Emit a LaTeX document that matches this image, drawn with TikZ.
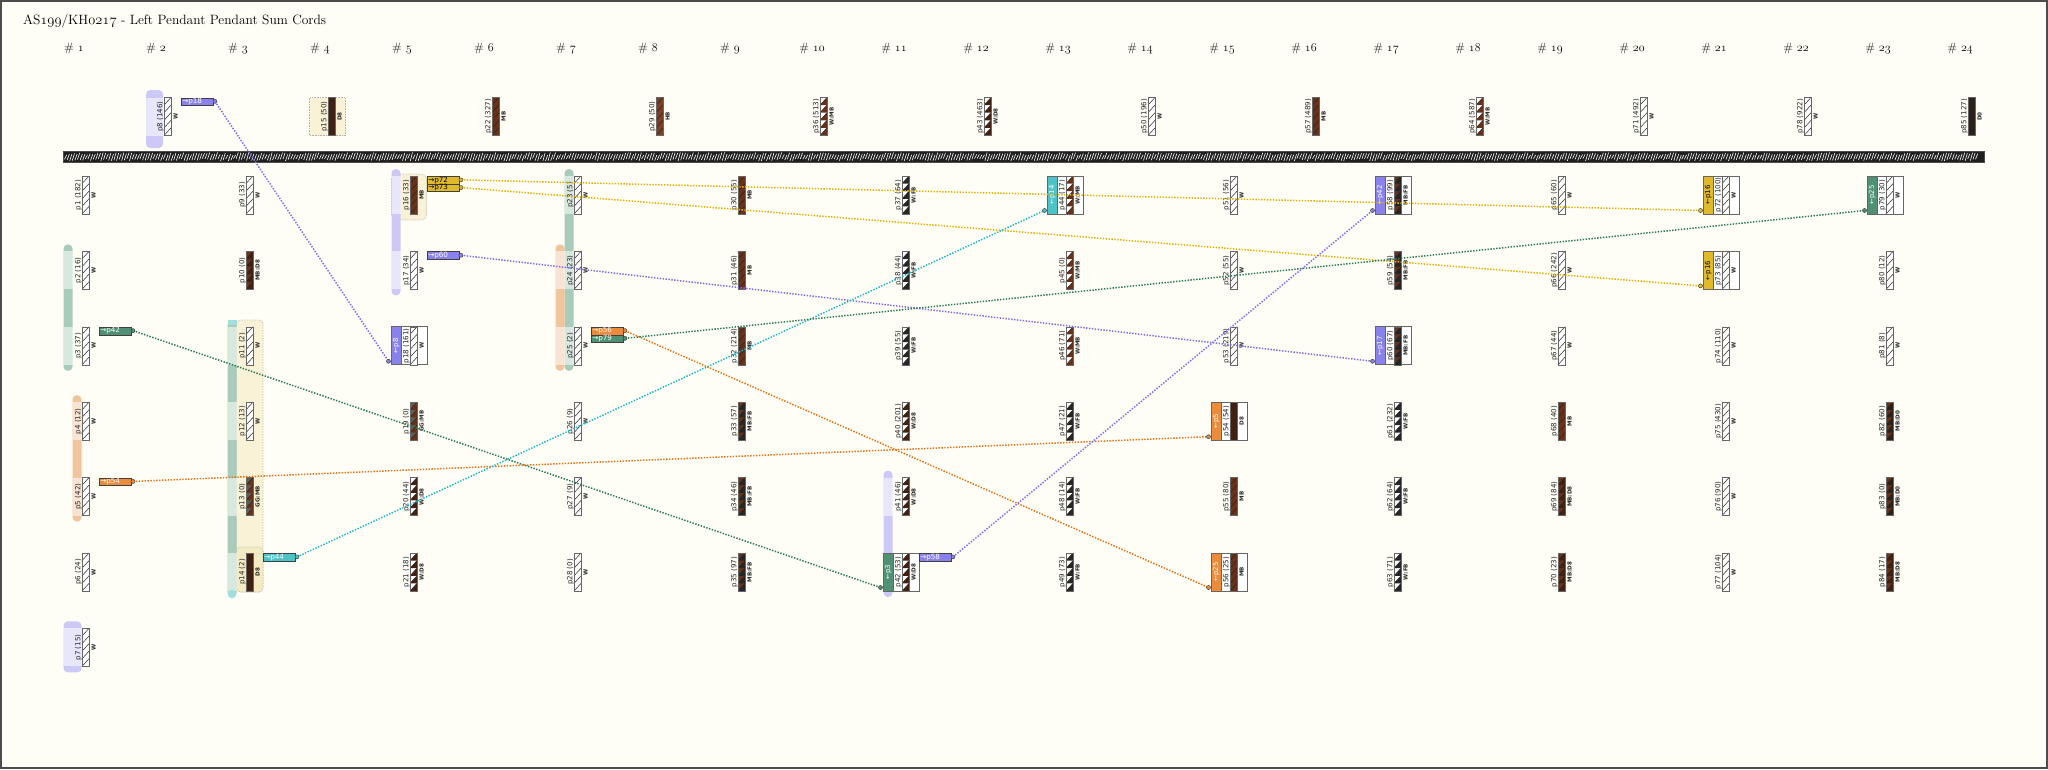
\documentclass[tikz,border=0pt]{standalone}
\usepackage{fontspec}
\newfontfamily\dv{DejaVu Sans}
\definecolor{bg}{HTML}{FFFEF6}
\definecolor{cW}{HTML}{FFFFFF}
\definecolor{cMB}{HTML}{6B3118}
\definecolor{cD8}{HTML}{43200F}
\definecolor{cHB}{HTML}{7C4024}
\definecolor{cD0}{HTML}{2B2118}
\definecolor{cFB}{HTML}{262626}
\definecolor{cGG}{HTML}{5E5E52}
\definecolor{tPu}{HTML}{8A82EC}
\definecolor{tYe}{HTML}{E0BA2A}
\definecolor{tGr}{HTML}{4F9172}
\definecolor{tOr}{HTML}{EC8B3A}
\definecolor{tCy}{HTML}{4DC3C8}
\definecolor{lPu}{HTML}{7B6DF2}
\definecolor{lYe}{HTML}{E2B000}
\definecolor{lGr}{HTML}{2A7A56}
\definecolor{lOr}{HTML}{EA7110}
\definecolor{lCy}{HTML}{1FB8C2}
\definecolor{bGr}{HTML}{A8CCB9}
\definecolor{bOr}{HTML}{F0C49C}
\definecolor{bPu}{HTML}{CDC9F6}
\definecolor{bYe}{HTML}{F9F2D6}
\definecolor{bYe2}{HTML}{F5EBC2}
\definecolor{bCy}{HTML}{A3DEDF}

\newcommand{\gx}[1]{\pgfmathsetmacro\cordx{85.5+(#1-1)*82}}
\newcommand{\ry}[1]{\pgfmathsetmacro\cordy{(#1==0) ? 97.5 : 176+75.4*(#1-1)}}
\newcommand{\cordshape}[4]{%
  \fill[#3] (#1-3.5,#2) rectangle (#1+3.5,#2+38);
  \foreach \k in {0,...,4}{
    \fill[#4] (#1-3.5,#2+7.6*\k+7.6) -- (#1+3.5,#2+7.6*\k) -- (#1+3.5,#2+7.6*\k+7.6) -- cycle;
    \draw[slash] (#1-3.5,#2+7.6*\k+7.6) -- (#1+3.5,#2+7.6*\k);
  }
  \draw[cordborder] (#1-3.5,#2) rectangle (#1+3.5,#2+38);
}
\newcommand{\cord}[7]{\gx{#2}\ry{#3}%
  \cordshape{\cordx}{\cordy}{#4}{#5}
  \node[lab] (#1) at (\cordx-7.2,\cordy+19) {#6};
  \node[code] (#1c) at (\cordx+8,\cordy+19) {#7};}
\newcommand{\inbox}[6]{\gx{#2}\ry{#3}%
  \draw[boxline, fill=white] (\cordx-22,\cordy) rectangle (\cordx+13.5,\cordy+38);
  \fill[#4] (\cordx-22,\cordy) rectangle (\cordx-12.5,\cordy+38);
  \draw[boxline] (\cordx-22,\cordy) rectangle (\cordx-12.5,\cordy+38);
  \node[striptext, text=#5] (#1s) at (\cordx-17.25,\cordy+19) {#6};
  \coordinate (#1) at (\cordx-25,\cordy+34.5);}
\newcommand{\outtag}[7]{\gx{#2}\ry{#3}%
  \node[tagbox, fill=#5, text=#6] (#1t) at (\cordx+13,\cordy+7.7*#4) {#7};
  \coordinate (#1) at (\cordx+47.5,\cordy+7.7*#4+3.85);}
\newcommand{\band}[6]{%
  \pgfmathsetmacro\bandx{85.5+(#1-1)*82}%
  \pgfmathsetmacro\bandt{((#4==0) ? 97.5 : 176+75.4*(#4-1))-7}%
  \pgfmathsetmacro\bandb{((#5==0) ? 97.5 : 176+75.4*(#5-1))+44}%
  \fill[#6, rounded corners=4.2pt] (\bandx+#2,\bandt) rectangle (\bandx+#3,\bandb);}
\newcommand{\bandhl}[4]{%
  \pgfmathsetmacro\bandx{85.5+(#1-1)*82}%
  \pgfmathsetmacro\bandt{(#4==0) ? 97.5 : 176+75.4*(#4-1)}%
  \fill[white, opacity=0.55] (\bandx+#2,\bandt) rectangle (\bandx+#3,\bandt+38);}

\begin{document}
\begin{tikzpicture}[x=1pt,y=-1pt,
  lab/.style={font=\dv\fontsize{7.1}{8}\selectfont, rotate=90, inner sep=0pt, text=black!85},
  code/.style={font=\dv\bfseries\fontsize{5.6}{6}\selectfont, rotate=90, inner sep=0pt, text=black!85},
  slash/.style={draw=black!85, line width=0.5pt},
  cordborder/.style={draw=black!60, line width=0.6pt},
  boxline/.style={draw=black!60, line width=0.8pt},
  tagbox/.style={draw=black!75, line width=0.6pt, minimum width=32pt, minimum height=7.7pt,
    inner xsep=1.5pt, inner ysep=0pt, text width=29pt, align=left, anchor=north west,
    font=\dv\fontsize{7.2}{7.5}\selectfont},
  striptext/.style={font=\dv\fontsize{7}{7.5}\selectfont, rotate=90, inner sep=0pt},
  conn/.style={dash pattern=on 1.4pt off 1.5pt, line width=1.5pt},
  hdr/.style={font=\fontsize{12}{13}\selectfont, inner sep=0pt},
  yband/.style={fill=bYe, draw=black!30, densely dotted, line width=0.6pt}]

\fill[bg] (0,0) rectangle (2048,769);
\useasboundingbox (0,0) rectangle (2048,769);
\draw[black!70, line width=2pt] (1,1) rectangle (2047,768);

% title and headers
\node[anchor=west, font=\fontsize{13.5}{15}\selectfont, inner sep=0pt] (title) at (23,21)
  {AS$\mathnormal{199}$/KH$\mathnormal{0217}$ - Left Pendant Pendant Sum Cords};
\foreach \n in {1,...,24}{
  \node[hdr] (h\n) at ({74+(\n-1)*82},48) {\# $\mathnormal{\n}$};
}

% ---------- background bands ----------
% group 1
\band{1}{-22}{-13}{2}{3}{bGr}\bandhl{1}{-22}{-13}{2}\bandhl{1}{-22}{-13}{3}
\band{1}{-13}{-4}{4}{5}{bOr}\bandhl{1}{-13}{-4}{4}\bandhl{1}{-13}{-4}{5}
\band{1}{-22}{-4}{7}{7}{bPu}\bandhl{1}{-22}{-4}{7}
% group 2
\fill[bPu, rounded corners=4.2pt] (146,90) rectangle (163,148);
\bandhl{2}{-21.5}{-4.5}{0}
% group 3
\draw[yband, rounded corners=4pt] (236.5,320) rectangle (263,592);
\draw[yband, fill=bYe2, rounded corners=4pt] (236.5,547) rectangle (263,592);
\band{3}{-22}{-13}{3}{6}{bGr}
\bandhl{3}{-22}{-13}{3}\bandhl{3}{-22}{-13}{4}\bandhl{3}{-22}{-13}{5}\bandhl{3}{-22}{-13}{6}
\fill[bCy] (227.5,320) rectangle (236.5,325);
\fill[bCy] (232,594) circle (4.3pt);
% group 4
\draw[yband] (309.5,97.5) rectangle (345,135.5);
% group 5
\draw[yband, rounded corners=5pt] (391.5,174) rectangle (426.5,220);
\band{5}{-22}{-13}{1}{2}{bPu}\bandhl{5}{-22}{-13}{1}\bandhl{5}{-22}{-13}{2}
% group 7
\band{7}{-13}{-4}{1}{3}{bGr}\bandhl{7}{-13}{-4}{1}\bandhl{7}{-13}{-4}{2}\bandhl{7}{-13}{-4}{3}
\band{7}{-22}{-13}{2}{3}{bOr}\bandhl{7}{-22}{-13}{2}\bandhl{7}{-22}{-13}{3}
% group 11
\band{11}{-22}{-13}{5}{6}{bPu}\bandhl{11}{-22}{-13}{5}

% ---------- main cord ----------
\fill[black!88] (63,151) rectangle (1984,162.5);
\pgfmathsetseed{11}
\foreach \i in {0,...,735}{
  \pgfmathsetmacro\xa{64.5+2.6*\i}
  \pgfmathsetmacro\ra{rnd}
  \pgfmathsetmacro\rb{rnd}
  \draw[white, line width=0.6pt] (\xa,161-2.5*\ra) -- (\xa+2.2,152.5+2.5*\rb);
}
\draw[black!70, line width=0.6pt] (63,151) rectangle (1984,162.5);

% ---------- boxes of receiving cords ----------
\inbox{i18}{5}{3}{tPu}{white}{←p8}
\inbox{i44}{13}{1}{tCy}{white}{←p14}
\inbox{i58}{17}{1}{tPu}{white}{←p42}
\inbox{i60}{17}{3}{tPu}{white}{←p17}
\inbox{i54}{15}{4}{tOr}{white}{←p5}
\inbox{i56}{15}{6}{tOr}{white}{←p25}
\inbox{i72}{21}{1}{tYe}{black}{←p16}
\inbox{i73}{21}{2}{tYe}{black}{←p16}
\inbox{i79}{23}{1}{tGr}{white}{←p25}
\inbox{i42}{11}{6}{tGr}{white}{←p3}

% ---------- cords ----------
\cord{p1}{1}{1}{cW}{cW}{p1 (182)}{W}
\cord{p2}{1}{2}{cW}{cW}{p2 (16)}{W}
\cord{p3}{1}{3}{cW}{cW}{p3 (37)}{W}
\cord{p4}{1}{4}{cW}{cW}{p4 (12)}{W}
\cord{p5}{1}{5}{cW}{cW}{p5 (42)}{W}
\cord{p6}{1}{6}{cW}{cW}{p6 (24)}{W}
\cord{p7}{1}{7}{cW}{cW}{p7 (15)}{W}
\cord{p8}{2}{0}{cW}{cW}{p8 (146)}{W}
\cord{p9}{3}{1}{cW}{cW}{p9 (33)}{W}
\cord{p10}{3}{2}{cMB}{cD8}{p10 (0)}{MB:D8}
\cord{p11}{3}{3}{cW}{cW}{p11 (2)}{W}
\cord{p12}{3}{4}{cW}{cW}{p12 (13)}{W}
\cord{p13}{3}{5}{cGG}{cMB}{p13 (0)}{GG:MB}
\cord{p14}{3}{6}{cD8}{cD8}{p14 (2)}{D8}
\cord{p15}{4}{0}{cD8}{cD8}{p15 (50)}{D8}
\cord{p16}{5}{1}{cMB}{cMB}{p16 (33)}{MB}
\cord{p17}{5}{2}{cW}{cW}{p17 (34)}{W}
\cord{p18}{5}{3}{cW}{cW}{p18 (161)}{W}
\cord{p19}{5}{4}{cGG}{cMB}{p19 (0)}{GG:MB}
\cord{p20}{5}{5}{cW}{cD8}{p20 (44)}{W:D8}
\cord{p21}{5}{6}{cW}{cD8}{p21 (18)}{W:D8}
\cord{p22}{6}{0}{cMB}{cMB}{p22 (327)}{MB}
\cord{p23}{7}{1}{cW}{cW}{p23 (5)}{W}
\cord{p24}{7}{2}{cW}{cW}{p24 (23)}{W}
\cord{p25}{7}{3}{cW}{cW}{p25 (2)}{W}
\cord{p26}{7}{4}{cW}{cW}{p26 (9)}{W}
\cord{p27}{7}{5}{cW}{cW}{p27 (9)}{W}
\cord{p28}{7}{6}{cW}{cW}{p28 (0)}{W}
\cord{p29}{8}{0}{cHB}{cHB}{p29 (50)}{HB}
\cord{p30}{9}{1}{cMB}{cMB}{p30 (55)}{MB}
\cord{p31}{9}{2}{cMB}{cMB}{p31 (46)}{MB}
\cord{p32}{9}{3}{cMB}{cMB}{p32 (214)}{MB}
\cord{p33}{9}{4}{cMB}{cFB}{p33 (57)}{MB:FB}
\cord{p34}{9}{5}{cMB}{cFB}{p34 (46)}{MB:FB}
\cord{p35}{9}{6}{cMB}{cFB}{p35 (97)}{MB:FB}
\cord{p36}{10}{0}{cW}{cMB}{p36 (513)}{W:MB}
\cord{p37}{11}{1}{cW}{cFB}{p37 (64)}{W:FB}
\cord{p38}{11}{2}{cW}{cFB}{p38 (44)}{W:FB}
\cord{p39}{11}{3}{cW}{cFB}{p39 (55)}{W:FB}
\cord{p40}{11}{4}{cW}{cD8}{p40 (201)}{W:D8}
\cord{p41}{11}{5}{cW}{cD8}{p41 (46)}{W:D8}
\cord{p42}{11}{6}{cW}{cD8}{p42 (53)}{W:D8}
\cord{p43}{12}{0}{cW}{cD8}{p43 (463)}{W:D8}
\cord{p44}{13}{1}{cW}{cMB}{p44 (17)}{W:MB}
\cord{p45}{13}{2}{cW}{cMB}{p45 (0)}{W:MB}
\cord{p46}{13}{3}{cW}{cMB}{p46 (71)}{W:MB}
\cord{p47}{13}{4}{cW}{cFB}{p47 (21)}{W:FB}
\cord{p48}{13}{5}{cW}{cFB}{p48 (14)}{W:FB}
\cord{p49}{13}{6}{cW}{cFB}{p49 (73)}{W:FB}
\cord{p50}{14}{0}{cW}{cW}{p50 (196)}{W}
\cord{p51}{15}{1}{cW}{cW}{p51 (56)}{W}
\cord{p52}{15}{2}{cW}{cW}{p52 (55)}{W}
\cord{p53}{15}{3}{cW}{cW}{p53 (219)}{W}
\cord{p54}{15}{4}{cD8}{cD8}{p54 (54)}{D8}
\cord{p55}{15}{5}{cMB}{cMB}{p55 (80)}{MB}
\cord{p56}{15}{6}{cMB}{cMB}{p56 (25)}{MB}
\cord{p57}{16}{0}{cMB}{cMB}{p57 (489)}{MB}
\cord{p58}{17}{1}{cMB}{cFB}{p58 (99)}{MB:FB}
\cord{p59}{17}{2}{cMB}{cFB}{p59 (54)}{MB:FB}
\cord{p60}{17}{3}{cMB}{cFB}{p60 (67)}{MB:FB}
\cord{p61}{17}{4}{cW}{cFB}{p61 (232)}{W:FB}
\cord{p62}{17}{5}{cW}{cFB}{p62 (64)}{W:FB}
\cord{p63}{17}{6}{cW}{cFB}{p63 (71)}{W:FB}
\cord{p64}{18}{0}{cW}{cMB}{p64 (587)}{W:MB}
\cord{p65}{19}{1}{cW}{cW}{p65 (60)}{W}
\cord{p66}{19}{2}{cW}{cW}{p66 (242)}{W}
\cord{p67}{19}{3}{cW}{cW}{p67 (44)}{W}
\cord{p68}{19}{4}{cMB}{cMB}{p68 (40)}{MB}
\cord{p69}{19}{5}{cMB}{cD8}{p69 (84)}{MB:D8}
\cord{p70}{19}{6}{cMB}{cD8}{p70 (23)}{MB:D8}
\cord{p71}{20}{0}{cW}{cW}{p71 (492)}{W}
\cord{p72}{21}{1}{cW}{cW}{p72 (100)}{W}
\cord{p73}{21}{2}{cW}{cW}{p73 (85)}{W}
\cord{p74}{21}{3}{cW}{cW}{p74 (110)}{W}
\cord{p75}{21}{4}{cW}{cW}{p75 (430)}{W}
\cord{p76}{21}{5}{cW}{cW}{p76 (90)}{W}
\cord{p77}{21}{6}{cW}{cW}{p77 (104)}{W}
\cord{p78}{22}{0}{cW}{cW}{p78 (922)}{W}
\cord{p79}{23}{1}{cW}{cW}{p79 (30)}{W}
\cord{p80}{23}{2}{cW}{cW}{p80 (12)}{W}
\cord{p81}{23}{3}{cW}{cW}{p81 (8)}{W}
\cord{p82}{23}{4}{cMB}{cD0}{p82 (60)}{MB:D0}
\cord{p83}{23}{5}{cMB}{cD0}{p83 (0)}{MB:D0}
\cord{p84}{23}{6}{cMB}{cD8}{p84 (17)}{MB:D8}
\cord{p85}{24}{0}{cD0}{cD0}{p85 (127)}{D0}

% ---------- outgoing tags ----------
\outtag{o8}{2}{0}{0}{tPu}{white}{→p18}
\outtag{o72}{5}{1}{0}{tYe}{black}{→p72}
\outtag{o73}{5}{1}{1}{tYe}{black}{→p73}
\outtag{o60}{5}{2}{0}{tPu}{white}{→p60}
\outtag{o42}{1}{3}{0}{tGr}{white}{→p42}
\outtag{o54}{1}{5}{0}{tOr}{white}{→p54}
\outtag{o44}{3}{6}{0}{tCy}{white}{→p44}
\outtag{o56}{7}{3}{0}{tOr}{white}{→p56}
\outtag{o79}{7}{3}{1}{tGr}{white}{→p79}
\outtag{o58}{11}{6}{0}{tPu}{white}{→p58}

% ---------- connectors ----------
\draw[conn, lPu] (o8) -- (i18);
\draw[conn, lYe] (o72) -- (i72);
\draw[conn, lYe] (o73) -- (i73);
\draw[conn, lPu] (o60) -- (i60);
\draw[conn, lGr] (o42) -- (i42);
\draw[conn, lOr] (o54) -- (i54);
\draw[conn, lCy] (o44) -- (i44);
\draw[conn, lOr] (o56) -- (i56);
\draw[conn, lGr] (o79) -- (i79);
\draw[conn, lPu] (o58) -- (i58);

\foreach \c/\col in {o8/tPu,i18/tPu,o72/tYe,i72/tYe,o73/tYe,i73/tYe,o60/tPu,i60/tPu,
  o42/tGr,i42/tGr,o54/tOr,i54/tOr,o44/tCy,i44/tCy,o56/tOr,i56/tOr,o79/tGr,i79/tGr,o58/tPu,i58/tPu}{
  \filldraw[fill=\col, draw=black!75, line width=0.5pt] (\c) circle (2pt);
}
\end{tikzpicture}
\end{document}
